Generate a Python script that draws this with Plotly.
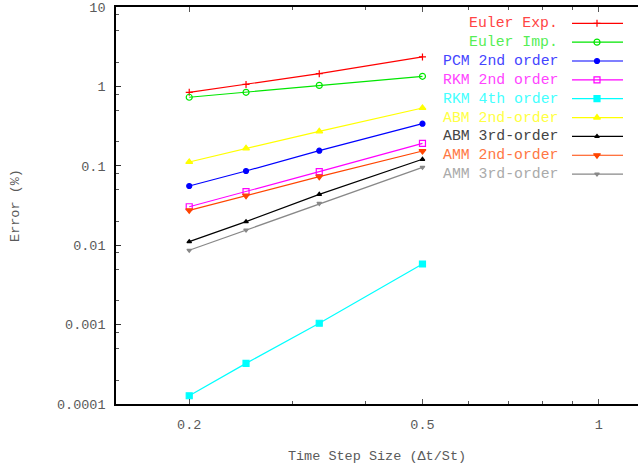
import math
import plotly.graph_objects as go

# ---- data ----
dt = [0.2, 0.25, 1/3, 0.5]
euler_exp = [0.843, 1.06, 1.445, 2.35]
euler_imp = [0.73, 0.843, 1.03, 1.34]
pcm_2nd = [0.0557, 0.086, 0.155, 0.339]
rkm_2nd = [0.0305, 0.0472, 0.0843, 0.192]
rkm_4th = [0.000127, 0.000325, 0.00104, 0.0058]
abm_2nd = [0.1117, 0.166, 0.272, 0.535]
abm_3rd = [0.01107, 0.0198, 0.0437, 0.1208]
amm_2nd = [0.0275, 0.042, 0.073, 0.1535]
amm_3rd = [0.00863, 0.0155, 0.0336, 0.0957]

names = ["Euler Exp.", "Euler Imp.", "PCM 2nd order", "RKM 2nd order", "RKM 4th order",
         "ABM 2nd-order", "ABM 3rd-order", "AMM 2nd-order", "AMM 3rd-order"]
series = [euler_exp, euler_imp, pcm_2nd, rkm_2nd, rkm_4th, abm_2nd, abm_3rd, amm_2nd, amm_3rd]
colors = ["#ff0000", "#00e600", "#0000ff", "#ff00ff", "#00ffff",
          "#ffff00", "#000000", "#ff4500", "#888888"]
text_colors = ["#ff4444", "#55ee55", "#4444ff", "#ff44ff", "#44ffff",
               "#ffff44", "#444444", "#ff7744", "#aaaaaa"]
symbols = ["cross-thin-open", "circle-open", "circle", "square-open", "square",
           "triangle-up", "triangle-up", "triangle-down", "triangle-down"]
sizes = [5, 6, 5, 6, 6, 6, 4, 6, 4]

x_ticks = [0.2, 0.5, 1]
x_tick_labels = ["0.2", "0.5", "1"]
y_ticks = [0.0001, 0.001, 0.01, 0.1, 1, 10]
y_tick_labels = ["0.0001", "0.001", "0.01", "0.1", "1", "10"]

W, H = 638, 467
L, R, T, B = 116, 0, 7, 63
PW, PH = W - L - R, H - T - B

FONT = "Liberation Mono"
TXT = "#5a5a5a"

fig = go.Figure()
for name, ys, c, s, sz in zip(names, series, colors, symbols, sizes):
    fig.add_trace(go.Scatter(
        x=dt, y=ys, mode="lines+markers", name=name,
        line=dict(color=c, width=1.2),
        marker=dict(symbol=s, size=sz, color=c, line=dict(color=c, width=1.2)),
        showlegend=False, cliponaxis=False))

# manual legend (text right-aligned, sample on the right)
def px2x(px):
    return (px - L) / PW

def py2y(py):
    return (H - B - py) / PH

row0, drow = 23.3, 18.85
for i, (name, c, tc, s, sz) in enumerate(zip(names, colors, text_colors, symbols, sizes)):
    py = row0 + i * drow
    yy = py2y(py)
    fig.add_annotation(x=px2x(560), y=yy, xref="paper", yref="paper", text=name,
                       showarrow=False, xanchor="right", yanchor="middle",
                       font=dict(family=FONT, size=14.8, color=tc))
    fig.add_trace(go.Scatter(
        x=[px2x(572), px2x(623)], y=[yy, yy], xaxis="x2", yaxis="y2",
        mode="lines", line=dict(color=c, width=1.2), showlegend=False, hoverinfo="skip"))
    fig.add_trace(go.Scatter(
        x=[px2x(597)], y=[yy], xaxis="x2", yaxis="y2", mode="markers",
        marker=dict(symbol=s, size=sz, color=c, line=dict(color=c, width=1.2)),
        showlegend=False, hoverinfo="skip"))

minor_y = []
for e in range(-4, 1):
    for m in (2, 5, 8):
        minor_y.append(m * 10 ** e)
minor_x = [0.3, 0.4, 0.6, 0.7, 0.8, 0.9]

fig.update_layout(
    width=W, height=H,
    margin=dict(l=L, r=R, t=T, b=B, autoexpand=False),
    plot_bgcolor="white", paper_bgcolor="white",
    font=dict(family=FONT, size=13.5, color=TXT),
    xaxis=dict(
        type="log", range=[math.log10(0.15), math.log10(1.166)], automargin=False,
        tickmode="array", tickvals=x_ticks, ticktext=x_tick_labels,
        ticks="inside", ticklen=5, tickcolor="#555555", tickwidth=1,
        ticklabelstandoff=7,
        showline=True, linecolor="black", linewidth=1.5, mirror="allticks",
        showgrid=False, zeroline=False,
        tickfont=dict(family=FONT, size=13.5, color=TXT),
        minor=dict(tickvals=minor_x, ticks="inside", ticklen=3, tickcolor="#555555", showgrid=False),
        title=dict(text="Time Step Size (Δt/St)", font=dict(family=FONT, size=13.5, color=TXT),
                   standoff=19),
    ),
    yaxis=dict(
        type="log", range=[-4, 1], automargin=False,
        tickmode="array", tickvals=y_ticks, ticktext=y_tick_labels,
        ticks="inside", ticklen=5, tickcolor="#333333", tickwidth=1,
        ticklabelstandoff=6,
        showline=True, linecolor="black", linewidth=1.5,
        showgrid=False, zeroline=False,
        tickfont=dict(family=FONT, size=13.5, color=TXT),
        minor=dict(tickvals=minor_y, ticks="inside", ticklen=3, tickcolor="#555555", showgrid=False),
        title=dict(text="Error (%)", font=dict(family=FONT, size=13.5, color=TXT),
                   standoff=34),
    ),
    xaxis2=dict(overlaying="x", range=[0, 1], visible=False, fixedrange=True),
    yaxis2=dict(overlaying="y", range=[0, 1], visible=False, fixedrange=True),
)

fig.write_html("out.html", config={"displayModeBar": False},
               post_script="document.body.style.margin='0';document.body.style.padding='0';")
